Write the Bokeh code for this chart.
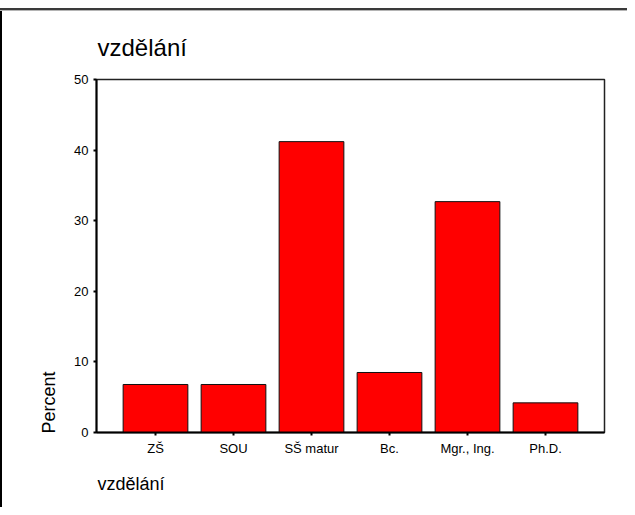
import numpy as np
from bokeh.plotting import figure
from bokeh.models import FactorRange, Range1d, FixedTicker, Title, ColumnDataSource
from bokeh.embed import file_html
from bokeh.resources import INLINE

# ---- data ----
categories = ["ZŠ", "SOU", "SŠ matur", "Bc.", "Mgr., Ing.", "Ph.D."]
percent = [6.8, 6.8, 41.2, 8.5, 32.7, 4.2]
y_ticks = [0, 10, 20, 30, 40, 50]
title_text = "vzdělání"
x_label_text = "vzdělání"
y_label_text = "Percent"

FONT = "Liberation Sans"

src = ColumnDataSource(dict(cat=categories, val=percent))

p = figure(
    width=627, height=507,
    x_range=FactorRange(factors=categories, range_padding=0.0855),
    y_range=Range1d(0, 50),
    output_backend="svg", toolbar_location=None,
    min_border_left=96, min_border_right=23, min_border_top=79, min_border_bottom=75,
    styles={
        "background-color": "white",
        "background-image": "linear-gradient(#3a3a3a,#3a3a3a), linear-gradient(#b4b4b4,#b4b4b4), linear-gradient(#000,#000)",
        "background-size": "100% 2px, 100% 1px, 2px calc(100% - 8px)",
        "background-position": "0 8px, 0 10px, 0 8px",
        "background-repeat": "no-repeat",
    },
)
p.background_fill_color = "white"
p.border_fill_color = None
p.outline_line_color = "#222222"
p.outline_line_width = 1.5
p.xgrid.visible = False
p.ygrid.visible = False

p.vbar(x="cat", top="val", width=0.83, source=src,
       fill_color="#FF0000", line_color="#111111", line_width=1)

for ax in (p.xaxis[0], p.yaxis[0]):
    ax.axis_line_color = "black"
    ax.axis_line_width = 2
    ax.major_tick_in = 0
    ax.major_tick_out = 3
    ax.major_tick_line_width = 2
    ax.major_tick_line_color = "black"
    ax.minor_tick_line_color = None
    ax.major_label_text_font = FONT
    ax.major_label_text_font_size = "13px"
    ax.major_label_text_color = "black"
    ax.major_label_standoff = 5

p.yaxis[0].ticker = FixedTicker(ticks=y_ticks)

# top title
p.add_layout(Title(text=title_text, align="left", offset=1, standoff=37,
                   text_font=FONT, text_font_size="24px", text_font_style="normal",
                   text_color="black"), "above")

# y label at the bottom end of the axis
p.add_layout(Title(text=y_label_text, align="left", offset=-1, standoff=26,
                   text_font=FONT, text_font_size="18px", text_font_style="normal",
                   text_color="black"), "left")

# x label at the left end, below the axis
p.add_layout(Title(text=x_label_text, align="left", offset=1, standoff=26,
                   text_font=FONT, text_font_size="18px", text_font_style="normal",
                   text_color="black"), "below")

open("out.html", "w").write(file_html(p, INLINE))
